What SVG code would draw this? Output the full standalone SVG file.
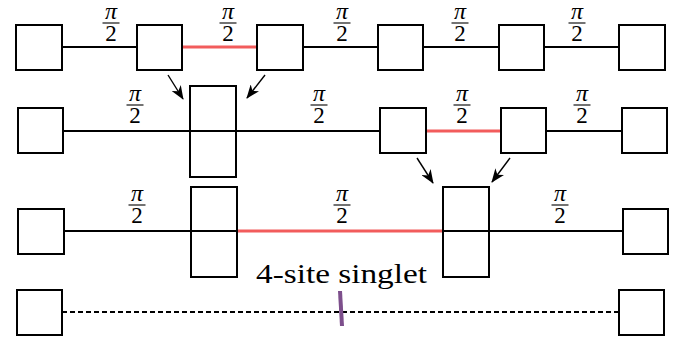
<svg xmlns="http://www.w3.org/2000/svg" width="681" height="343" viewBox="0 0 681 343">
<style>
.box{fill:#fff;stroke:#000;stroke-width:2}
.bl{stroke:#000;stroke-width:1.8;fill:none}
.rd{stroke:#f25c5c;stroke-width:3.2;fill:none}
.ar{stroke:#000;stroke-width:1.4;fill:none;marker-end:url(#ah)}
.pi{font-family:"Liberation Serif","DejaVu Serif",serif;font-style:italic;font-size:24px;text-anchor:middle}
.two{font-family:"Liberation Serif","DejaVu Serif",serif;font-size:23px;text-anchor:middle}
.fb{stroke:#000;stroke-width:1.1}
</style>
<defs>
<marker id="ah" viewBox="0 0 14 11" refX="13" refY="5.5" markerWidth="14" markerHeight="11" markerUnits="userSpaceOnUse" orient="auto">
<path d="M0,0 L14,5.5 L0,11 L4,5.5 Z" fill="#000"/>
</marker>
<g id="frac">
<text class="pi" x="0" y="-4">π</text>
<line class="fb" x1="-8.5" y1="0" x2="8.5" y2="0"/>
<text class="two" x="0" y="18">2</text>
</g>
</defs>
<g id="connectors">
<line class="bl" x1="62" y1="47" x2="137" y2="47"/>
<line class="rd" x1="182" y1="47" x2="257" y2="47"/>
<line class="bl" x1="303" y1="47" x2="378" y2="47"/>
<line class="bl" x1="423" y1="47" x2="499" y2="47"/>
<line class="bl" x1="544" y1="47" x2="619" y2="47"/>
<line class="bl" x1="63" y1="131" x2="190" y2="131"/>
<line class="bl" x1="236" y1="131" x2="380" y2="131"/>
<line class="rd" x1="426" y1="131" x2="501" y2="131"/>
<line class="bl" x1="546" y1="131" x2="622" y2="131"/>
<line class="bl" x1="64" y1="231" x2="191" y2="231"/>
<line class="rd" x1="237" y1="231" x2="443" y2="231"/>
<line class="bl" x1="489" y1="231" x2="623" y2="231"/>
<line x1="62" y1="312" x2="619" y2="312" stroke="#000" stroke-width="2.2" stroke-dasharray="5,3"/>
<line x1="340" y1="291" x2="342" y2="326" stroke="#7d4f8c" stroke-width="4"/>
<line class="ar" x1="168" y1="75" x2="183" y2="99"/>
<line class="ar" x1="265" y1="75" x2="247" y2="98"/>
<line class="ar" x1="417" y1="158" x2="433" y2="183"/>
<line class="ar" x1="510" y1="158" x2="492" y2="182"/>
</g>
<g id="labels">
<use href="#frac" x="111" y="23"/>
<use href="#frac" x="228" y="23"/>
<use href="#frac" x="342" y="23"/>
<use href="#frac" x="460" y="23"/>
<use href="#frac" x="577" y="23"/>
<use href="#frac" x="135" y="105"/>
<use href="#frac" x="319" y="105"/>
<use href="#frac" x="462" y="105"/>
<use href="#frac" x="582" y="105"/>
<use href="#frac" x="137" y="205"/>
<use href="#frac" x="342" y="205"/>
<use href="#frac" x="560" y="205"/>
<text x="256" y="283" font-family="Liberation Serif, DejaVu Serif, serif" font-size="27" textLength="171" lengthAdjust="spacingAndGlyphs">4-site singlet</text>
</g>
<g id="r1n1"><rect class="box" x="16" y="25" width="46" height="45"/></g>
<g id="r1n2"><rect class="box" x="137" y="25" width="45" height="45"/></g>
<g id="r1n3"><rect class="box" x="257" y="25" width="46" height="45"/></g>
<g id="r1n4"><rect class="box" x="378" y="25" width="45" height="45"/></g>
<g id="r1n5"><rect class="box" x="499" y="25" width="45" height="45"/></g>
<g id="r1n6"><rect class="box" x="619" y="25" width="46" height="45"/></g>
<g id="r2n1"><rect class="box" x="18" y="108" width="45" height="45"/></g>
<g id="r2n2"><rect class="box" x="190" y="86" width="46" height="91"/><line class="bl" x1="190" y1="131" x2="236" y2="131"/></g>
<g id="r2n3"><rect class="box" x="380" y="108" width="46" height="45"/></g>
<g id="r2n4"><rect class="box" x="501" y="108" width="45" height="45"/></g>
<g id="r2n5"><rect class="box" x="622" y="108" width="45" height="45"/></g>
<g id="r3n1"><rect class="box" x="18" y="209" width="46" height="45"/></g>
<g id="r3n2"><rect class="box" x="191" y="187" width="46" height="90"/><line class="bl" x1="191" y1="231" x2="237" y2="231"/></g>
<g id="r3n3"><rect class="box" x="443" y="187" width="46" height="90"/><line class="bl" x1="443" y1="231" x2="489" y2="231"/></g>
<g id="r3n4"><rect class="box" x="623" y="209" width="45" height="45"/></g>
<g id="r4n1"><rect class="box" x="17" y="290" width="45" height="45"/></g>
<g id="r4n2"><rect class="box" x="619" y="290" width="45" height="45"/></g>
</svg>
